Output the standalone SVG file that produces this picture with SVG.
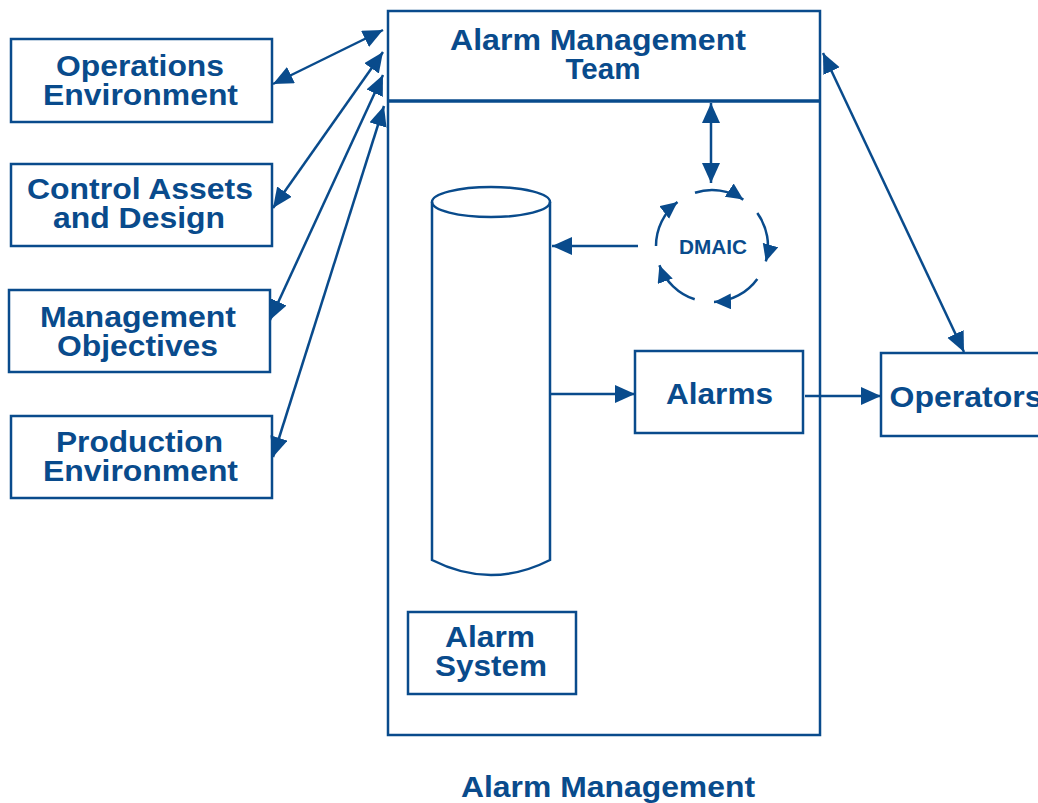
<svg xmlns="http://www.w3.org/2000/svg" width="1038" height="803" viewBox="0 0 1038 803">
<style>
.box{fill:#fff;stroke:#094b8c;stroke-width:2.5}
.t{font-family:"Liberation Sans",Arial,sans-serif;font-weight:bold;font-size:29px;fill:#094b8c;text-anchor:middle}
.ln{fill:none;stroke:#094b8c;stroke-width:2.5}
</style>
<defs>
<marker id="ah" markerUnits="userSpaceOnUse" markerWidth="22" markerHeight="20" refX="20" refY="9" orient="auto-start-reverse" viewBox="0 0 22 20">
<path d="M0,0 L20,9 L0,18 z" fill="#094b8c"/>
</marker>
<marker id="ahs" markerUnits="userSpaceOnUse" markerWidth="20" markerHeight="18" refX="17" refY="8" orient="auto" viewBox="0 0 20 18">
<path d="M0,0 L17,8 L0,16 z" fill="#094b8c"/>
</marker>
</defs>
<rect width="1038" height="803" fill="#fff"/>

<g id="alarm-management">
<rect class="box" x="388" y="11" width="432" height="724"/>
<line x1="388" y1="101" x2="820" y2="101" stroke="#094b8c" stroke-width="3.5"/>
<text class="t" x="598" y="50" textLength="296" lengthAdjust="spacingAndGlyphs">Alarm Management</text>
<text class="t" x="603" y="79" textLength="75" lengthAdjust="spacingAndGlyphs">Team</text>
<text class="t" x="608" y="797" textLength="294" lengthAdjust="spacingAndGlyphs">Alarm Management</text>
</g>

<g id="operations-environment">
<rect class="box" x="11" y="39" width="261" height="83"/>
<text class="t" x="140" y="76" textLength="168" lengthAdjust="spacingAndGlyphs">Operations</text>
<text class="t" x="140.5" y="105" textLength="195" lengthAdjust="spacingAndGlyphs">Environment</text>
</g>

<g id="control-assets">
<rect class="box" x="11" y="164" width="261" height="82"/>
<text class="t" x="140" y="199" textLength="226" lengthAdjust="spacingAndGlyphs">Control Assets</text>
<text class="t" x="139" y="228" textLength="172" lengthAdjust="spacingAndGlyphs">and Design</text>
</g>

<g id="management-objectives">
<rect class="box" x="9" y="290" width="261" height="82"/>
<text class="t" x="138" y="327" textLength="196" lengthAdjust="spacingAndGlyphs">Management</text>
<text class="t" x="137.5" y="356" textLength="161" lengthAdjust="spacingAndGlyphs">Objectives</text>
</g>

<g id="production-environment">
<rect class="box" x="11" y="416" width="261" height="82"/>
<text class="t" x="139.5" y="452" textLength="167" lengthAdjust="spacingAndGlyphs">Production</text>
<text class="t" x="140.5" y="481" textLength="195" lengthAdjust="spacingAndGlyphs">Environment</text>
</g>

<g id="database">
<path class="ln" d="M432,202 L432,560 Q491,590 550,560 L550,202" fill="#fff"/>
<ellipse class="ln" cx="491" cy="202" rx="59" ry="15" fill="#fff"/>
</g>

<g id="alarm-system">
<rect class="box" x="408" y="612" width="168" height="82"/>
<text class="t" x="490" y="647" textLength="90" lengthAdjust="spacingAndGlyphs">Alarm</text>
<text class="t" x="491" y="676" textLength="112" lengthAdjust="spacingAndGlyphs">System</text>
</g>

<g id="alarms">
<rect class="box" x="635" y="351" width="168" height="82"/>
<text class="t" x="719.5" y="404" textLength="107" lengthAdjust="spacingAndGlyphs">Alarms</text>
</g>

<g id="operators">
<rect class="box" x="881" y="353" width="170" height="83"/>
<text class="t" x="966" y="407" textLength="153" lengthAdjust="spacingAndGlyphs">Operators</text>
</g>

<g id="dmaic">
<text class="t" x="713" y="254" style="font-size:20px" textLength="68" lengthAdjust="spacingAndGlyphs">DMAIC</text>
<path class="ln" d="M695,192.7 A56,56 0 0 1 743.3,199.6" marker-end="url(#ahs)"/>
<path class="ln" d="M757.3,213.1 A56,56 0 0 1 765.8,261.4" marker-end="url(#ahs)"/>
<path class="ln" d="M757.3,278.9 A56,56 0 0 1 714,302" marker-end="url(#ahs)"/>
<path class="ln" d="M694.7,299.3 A56,56 0 0 1 659.4,265.2" marker-end="url(#ahs)"/>
<path class="ln" d="M656,246 A56,56 0 0 1 677.5,201.9" marker-end="url(#ahs)"/>
</g>

<g id="connectors">
<line class="ln" x1="273" y1="84" x2="383" y2="30" marker-start="url(#ah)" marker-end="url(#ah)"/>
<line class="ln" x1="273" y1="208" x2="383" y2="52" marker-start="url(#ah)" marker-end="url(#ah)"/>
<line class="ln" x1="270" y1="320" x2="383" y2="75" marker-start="url(#ah)" marker-end="url(#ah)"/>
<line class="ln" x1="273" y1="457" x2="384" y2="106" marker-start="url(#ah)" marker-end="url(#ah)"/>
<line class="ln" x1="823" y1="53" x2="964" y2="352" marker-start="url(#ah)" marker-end="url(#ah)"/>
<line class="ln" x1="711" y1="103" x2="711" y2="183" marker-start="url(#ah)" marker-end="url(#ah)"/>
<line class="ln" x1="638" y1="246" x2="552" y2="246" marker-end="url(#ah)"/>
<line class="ln" x1="551" y1="394" x2="635" y2="394" marker-end="url(#ah)"/>
<line class="ln" x1="805" y1="396" x2="881" y2="396" marker-end="url(#ah)"/>
</g>
</svg>
